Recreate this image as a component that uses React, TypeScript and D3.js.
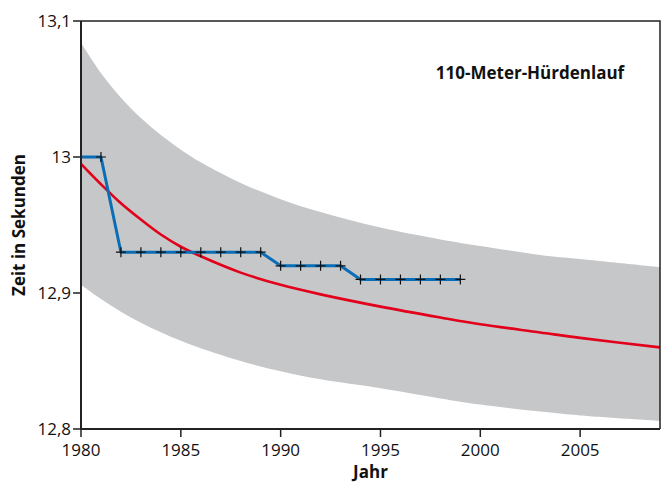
import React, { useEffect, useRef } from "react";
import * as d3 from "d3";

const recordYears = [1980, 1981, 1982, 1983, 1984, 1985, 1986, 1987, 1988, 1989, 1990, 1991, 1992, 1993, 1994, 1995, 1996, 1997, 1998, 1999];
const recordTimes = [13.0, 13.0, 12.93, 12.93, 12.93, 12.93, 12.93, 12.93, 12.93, 12.93, 12.92, 12.92, 12.92, 12.92, 12.91, 12.91, 12.91, 12.91, 12.91, 12.91];

const trendYears = [1980, 1981, 1982, 1983, 1984, 1985, 1986, 1988, 1990, 1992, 1995, 1998, 2000, 2003, 2005, 2009];
const trendValues = [12.995, 12.98, 12.966, 12.954, 12.943, 12.934, 12.927, 12.915, 12.906, 12.899, 12.89, 12.882, 12.877, 12.871, 12.867, 12.86];
const bandUpper = [13.084, 13.0617, 13.0436, 13.0287, 13.0161, 13.0054, 12.9961, 12.9809, 12.969, 12.9595, 12.9481, 12.9394, 12.9346, 12.928, 12.925, 12.919];
const bandLower = [12.906, 12.8955, 12.8863, 12.8782, 12.8711, 12.8648, 12.8594, 12.85, 12.8425, 12.8365, 12.83, 12.8225, 12.818, 12.8128, 12.81, 12.806];

const xTicks = [1980, 1985, 1990, 1995, 2000, 2005];
const yTicks = [12.8, 12.9, 13.0, 13.1];
const yTickLabels = ["12,8", "12,9", "13", "13,1"];

const title = "110-Meter-Hürdenlauf";
const xLabel = "Jahr";
const yLabel = "Zeit in Sekunden";

const W = 661;
const H = 485;
const M = { left: 81, right: 660, top: 21, bottom: 429 };
const FONT = "'Open Sans', 'Noto Sans', sans-serif";

export default function App() {
  const ref = useRef<SVGSVGElement | null>(null);

  useEffect(() => {
    const svg = d3.select(ref.current);
    svg.selectAll("*").remove();

    const x = d3.scaleLinear().domain([1980, 2009]).range([M.left, M.right]);
    const y = d3.scaleLinear().domain([12.8, 13.1]).range([M.bottom, M.top]);

    const clipId = "plotclip";
    svg.append("clipPath").attr("id", clipId).append("rect")
      .attr("x", M.left).attr("y", M.top)
      .attr("width", M.right - M.left).attr("height", M.bottom - M.top);

    const g = svg.append("g").attr("clip-path", `url(#${clipId})`);

    const bandData = trendYears.map((yr, i) => ({ yr, lo: bandLower[i], hi: bandUpper[i] }));
    const area = d3.area<{ yr: number; lo: number; hi: number }>()
      .x(d => x(d.yr)).y0(d => y(d.lo)).y1(d => y(d.hi))
      .curve(d3.curveCatmullRom.alpha(0.5));
    g.append("path").attr("d", area(bandData) as string).attr("fill", "#c6c7c9");

    const trendData = trendYears.map((yr, i) => ({ yr, v: trendValues[i] }));
    const line = d3.line<{ yr: number; v: number }>()
      .x(d => x(d.yr)).y(d => y(d.v)).curve(d3.curveCatmullRom.alpha(0.5));
    g.append("path").attr("d", line(trendData) as string)
      .attr("fill", "none").attr("stroke", "#e2001a").attr("stroke-width", 2.6);

    const recData = recordYears.map((yr, i) => ({ yr, v: recordTimes[i] }));
    const recLine = d3.line<{ yr: number; v: number }>().x(d => x(d.yr)).y(d => y(d.v));
    g.append("path").attr("d", recLine(recData) as string)
      .attr("fill", "none").attr("stroke", "#0a6db5").attr("stroke-width", 3)
      .attr("stroke-linejoin", "round");

    const markers = svg.append("g");
    recData.slice(1).forEach(d => {
      const cx = x(d.yr), cy = y(d.v);
      markers.append("path")
        .attr("d", `M${cx - 5},${cy}H${cx + 5}M${cx},${cy - 5}V${cy + 5}`)
        .attr("stroke", "#111").attr("stroke-width", 1.2).attr("fill", "none");
    });

    // frame
    const frame = svg.append("g").attr("stroke", "#222").attr("fill", "none");
    frame.append("path").attr("d", `M${M.left},${M.top}H${M.right}V${M.bottom}`).attr("stroke-width", 1.5);
    frame.append("path").attr("d", `M${M.left},${M.top}V${M.bottom}H${M.right}`).attr("stroke-width", 2);

    // y ticks
    yTicks.forEach((t, i) => {
      svg.append("line").attr("x1", M.left - 8).attr("x2", M.left).attr("y1", y(t)).attr("y2", y(t))
        .attr("stroke", "#222").attr("stroke-width", 1.5);
      svg.append("text").attr("x", M.left - 10).attr("y", y(t)).attr("dy", "0.35em")
        .attr("text-anchor", "end").attr("font-family", FONT).attr("font-size", 17).attr("fill", "#111")
        .text(yTickLabels[i]);
    });

    // x ticks
    xTicks.forEach(t => {
      svg.append("line").attr("x1", x(t)).attr("x2", x(t)).attr("y1", M.bottom).attr("y2", M.bottom + 8)
        .attr("stroke", "#222").attr("stroke-width", 1.5);
      svg.append("text").attr("x", x(t)).attr("y", 456)
        .attr("text-anchor", "middle").attr("font-family", FONT).attr("font-size", 17).attr("fill", "#111")
        .text(String(t));
    });

    svg.append("text").attr("x", (M.left + M.right) / 2).attr("y", 478)
      .attr("text-anchor", "middle").attr("font-family", FONT).attr("font-weight", "bold")
      .attr("font-size", 17).attr("fill", "#111").text(xLabel);

    svg.append("text").attr("transform", `translate(25,${(M.top + M.bottom) / 2}) rotate(-90)`)
      .attr("text-anchor", "middle").attr("font-family", FONT).attr("font-weight", "bold")
      .attr("font-size", 17).attr("fill", "#111").text(yLabel);

    svg.append("text").attr("x", 530).attr("y", 79)
      .attr("text-anchor", "middle").attr("font-family", FONT).attr("font-weight", "bold")
      .attr("font-size", 17).attr("fill", "#111").text(title);
  }, []);

  return (
    <svg ref={ref} width={W} height={H}
      style={{ position: "absolute", left: 0, top: 0, background: "#fff" }} />
  );
}
